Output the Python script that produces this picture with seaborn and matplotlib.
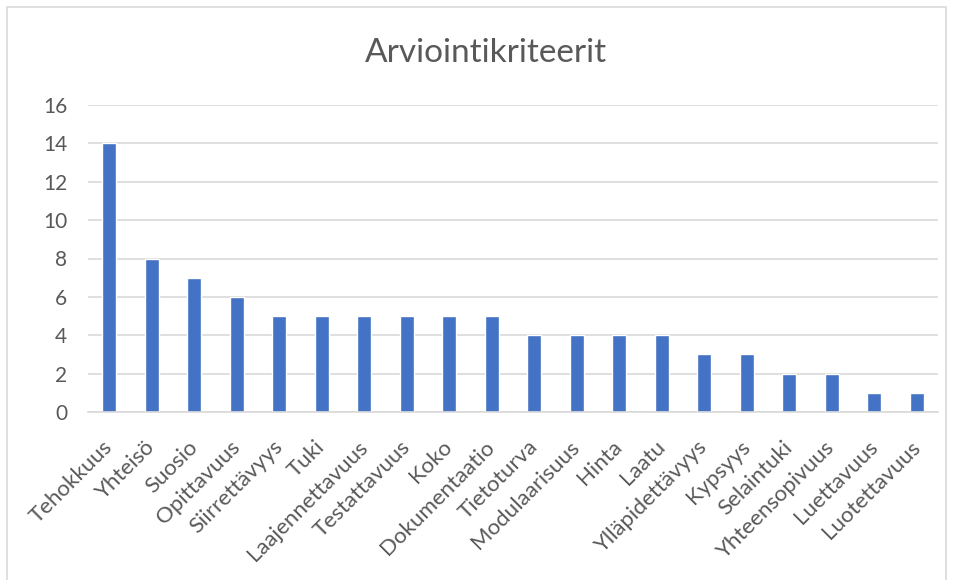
import matplotlib
matplotlib.use("Agg")
import matplotlib.pyplot as plt
import seaborn as sns
import pandas as pd
from matplotlib.patches import Rectangle

categories = ["Tehokkuus", "Yhteisö", "Suosio", "Opittavuus", "Siirrettävyys", "Tuki",
              "Laajennettavuus", "Testattavuus", "Koko", "Dokumentaatio", "Tietoturva",
              "Modulaarisuus", "Hinta", "Laatu", "Ylläpidettävyys", "Kypsyys",
              "Selaintuki", "Yhteensopivuus", "Luettavuus", "Luotettavuus"]
values = [14, 8, 7, 6, 5, 5, 5, 5, 5, 5, 4, 4, 4, 4, 3, 3, 2, 2, 1, 1]
yticks = [0, 2, 4, 6, 8, 10, 12, 14, 16]
title = "Arviointikriteerit"

sns.set_style("white")
plt.rcParams['font.family'] = ['Lato', 'DejaVu Sans']

W, H = 955, 580
fig = plt.figure(figsize=(W / 100, H / 100), dpi=100)
ax = fig.add_axes([88 / W, 1 - 412 / H, (938 - 88) / W, (412 - 105) / H])

df = pd.DataFrame({"k": categories, "v": values})
sns.barplot(data=df, x="k", y="v", color="#4472C4", width=0.33, ax=ax, saturation=1)

ax.set_ylim(0, 16)
ax.set_xlim(-0.5, len(categories) - 0.5)
ax.set_yticks(yticks)
ax.set_yticklabels([str(t) for t in yticks], fontsize=15, color="#595959")
ax.yaxis.grid(True, color="#D9D9D9", linewidth=1.2)
ax.set_axisbelow(True)
ax.tick_params(axis="y", length=0, pad=15)
ax.tick_params(axis="x", length=0, pad=23)
ax.set_xticks(range(len(categories)))
ax.set_xticklabels(categories, rotation=45, ha="right", va="center", rotation_mode="anchor",
                   fontsize=16, color="#595959")
ax.set_xlabel("")
ax.set_ylabel("")
for s in ["top", "right", "left"]:
    ax.spines[s].set_visible(False)
ax.spines["bottom"].set_color("#D9D9D9")
ax.spines["bottom"].set_linewidth(1.2)

fig.text(486 / W, 1 - 53 / H, title, ha="center", va="center", fontsize=24, color="#595959")

fig.patches.append(Rectangle((7 / W, -0.05), (946 - 7) / W, 1 - 7 / H + 0.05,
                             transform=fig.transFigure, fill=False,
                             edgecolor="#D9D9D9", linewidth=1.2))

fig.savefig("out.png", dpi=100)
